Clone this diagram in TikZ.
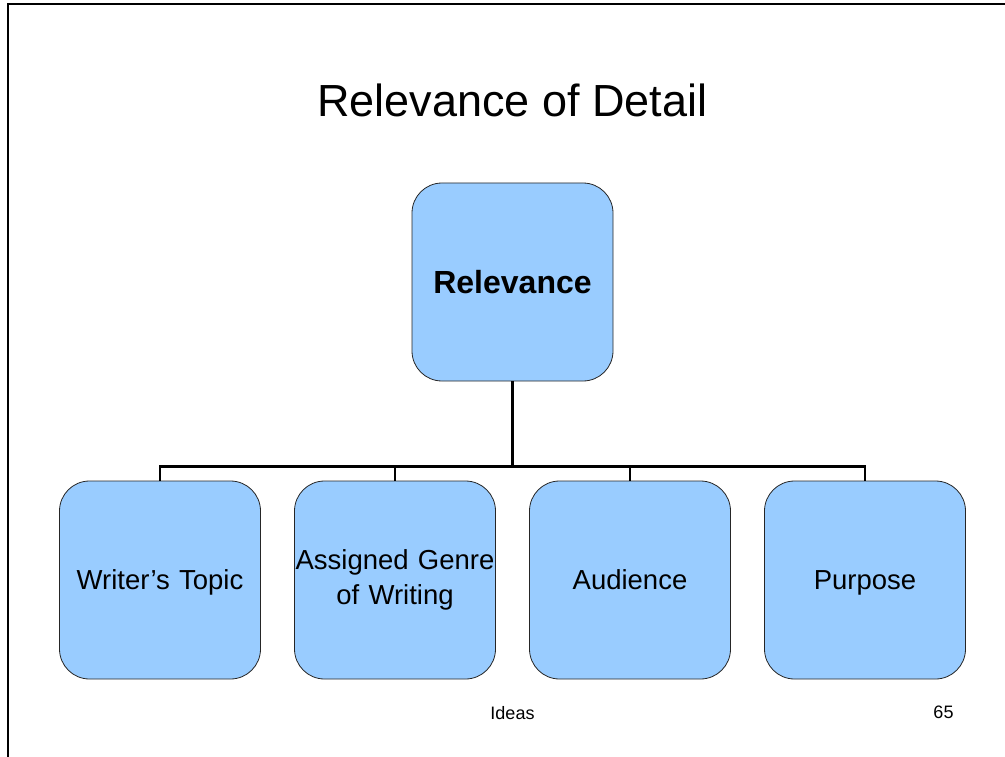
\documentclass[tikz,border=0pt]{standalone}
\usepackage{fontspec}
\setmainfont{Liberation Sans}
\usetikzlibrary{trees}
\usepackage{xcolor}
\definecolor{boxblue}{HTML}{99CCFF}

\begin{document}
\begin{tikzpicture}[x=1pt,y=-1pt,level distance=298pt,
		level 1/.style={sibling distance=235pt},
		edge from parent/.style={draw,line width=2.2pt},
		edge from parent path={(\tikzparentnode.south) -- ++(0,-85pt) -| (\tikzchildnode.north)}]
		\tikzstyle{ideabox}=[draw=black!85,line width=0.8pt,fill=boxblue,rounded corners=30pt,
			minimum width=201pt,minimum height=198pt,text width=201pt,inner sep=0pt,align=center,
			font=\fontsize{27.5}{35}\selectfont]
		\tikzstyle{oneline}=[text depth=0pt]
		\useasboundingbox (0,0) rectangle (1005,757);
		\draw[line width=1.4pt] (8,757) -- (8,4) -- (1005,4);
		\node [oneline,font=\fontsize{45}{54}\selectfont] (title) at (512.5,100) {Relevance of Detail};
		\node [ideabox,oneline,font=\fontsize{32}{38}\selectfont\bfseries] (rel) at (512.5,282) {Relevance}
		child {node [ideabox,oneline] (topic) {Writer’s Topic}}
		child {node [ideabox] (genre) {Assigned Genre\\of Writing}}
		child {node [ideabox,oneline] (aud) {Audience}}
		child {node [ideabox,oneline] (purp) {Purpose}};
		\node [oneline,font=\fontsize{18}{22}\selectfont] (foot) at (512.5,712.5) {Ideas};
		\node [oneline,font=\fontsize{18}{22}\selectfont] (page) at (943.5,712.5) {65};
\end{tikzpicture}
\end{document}
